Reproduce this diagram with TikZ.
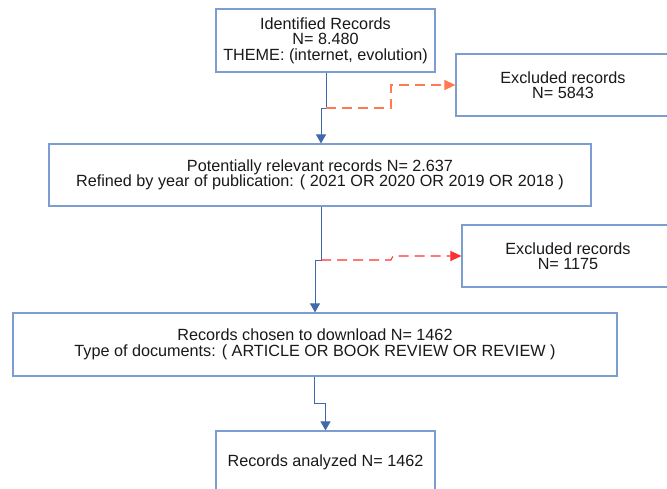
\documentclass[tikz,border=0pt]{standalone}
\usepackage{fontspec}
\setmainfont{Liberation Sans}
\usetikzlibrary{arrows.meta}
\definecolor{boxc}{HTML}{7C9DD2}
\definecolor{flowc}{HTML}{3F69AC}
\definecolor{exorange}{HTML}{FF7A50}
\definecolor{exred}{HTML}{FF3030}
\tikzset{
  box/.style={draw=boxc, line width=1.2pt, fill=white, align=center, inner sep=0pt,
    font=\fontsize{16.2}{15.4}\selectfont, text=black!90},
  flow/.style={draw=flowc, line width=1pt},
  flowarrow/.style={flow, -{Triangle[width=10pt,length=9pt]}},
  exarrow/.style={line width=1.1pt, dash pattern=on 10pt off 6pt, -{Triangle[width=10pt,length=11pt]}}
}
\begin{document}
\begin{tikzpicture}[x=1pt,y=-1pt]
\useasboundingbox (0,0) rectangle (667,488);
\clip (0,0) rectangle (667,488);
\node[box, minimum width=219pt, minimum height=63pt] (b1) at (325.5,40.5)
  {Identified Records\\N= 8.480\\THEME: (internet, evolution)};
\node[box, minimum width=214pt, minimum height=62pt] (e1) at (563,85)
  {Excluded records\\N= 5843};
\node[box, minimum width=542pt, minimum height=62pt] (b2) at (320,175)
  {Potentially relevant records N= 2.637\\Refined by year of publication: ( 2021 OR 2020 OR 2019 OR 2018 )};
\node[box, minimum width=212pt, minimum height=62pt] (e2) at (568,256)
  {Excluded records\\N= 1175};
\node[box, minimum width=604pt, minimum height=63pt] (b3) at (315,344.5)
  {Records chosen to download N= 1462\\Type of documents: ( ARTICLE OR BOOK REVIEW OR REVIEW )};
\node[box, minimum width=219pt, minimum height=62pt] (b4) at (325.5,462)
  {Records analyzed N= 1462};
% connector 1
\coordinate (j1) at (326,108);
\coordinate (k1) at (321,108);
\coordinate (d1) at (391,108);
\coordinate (u1) at (391,85);
\draw[flow] (b1.south -| j1) -- (j1) -- (k1);
\draw[flowarrow] (k1) -- (k1 |- b2.north);
\draw[exarrow, draw=exorange] (j1) -- (d1) -- (u1) -- (e1.west);
% connector 2
\coordinate (j2) at (321,260);
\coordinate (k2) at (315,260);
\coordinate (d2) at (391,260);
\coordinate (u2) at (393,256);
\draw[flow] (b2.south -| j2) -- (j2) -- (k2);
\draw[flowarrow] (k2) -- (k2 |- b3.north);
\draw[exarrow, draw=exred] (j2) -- (d2) -- (u2) -- (e2.west);
% connector 3
\coordinate (j3) at (314,403);
\coordinate (k3) at (325.5,403);
\draw[flow] (b3.south -| j3) -- (j3) -- (k3);
\draw[flowarrow] (k3) -- (b4.north);
\end{tikzpicture}
\end{document}
